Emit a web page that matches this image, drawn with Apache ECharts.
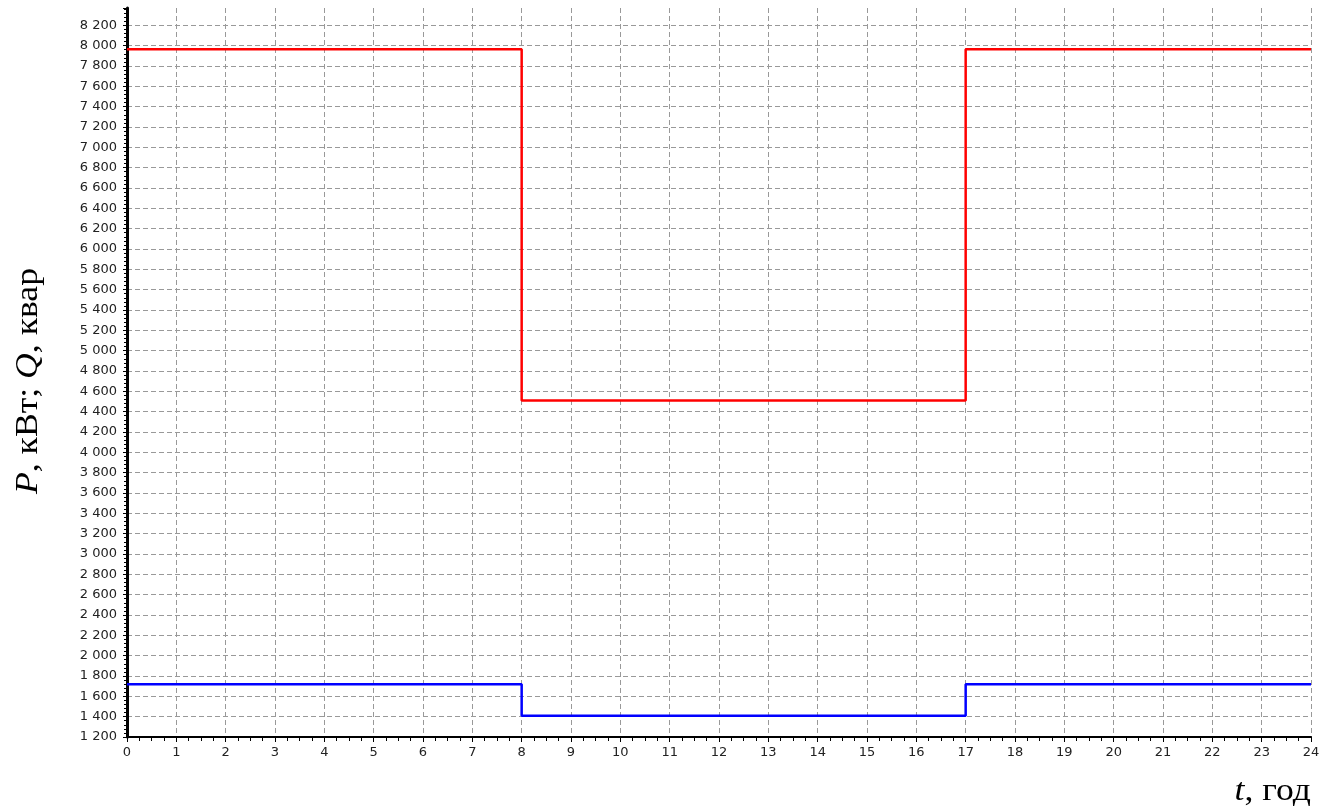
<!DOCTYPE html>
<html>
<head>
<meta charset="utf-8">
<script src="https://cdn.jsdelivr.net/npm/echarts@6/dist/echarts.min.js"></script>
<style>
  html, body { margin: 0; padding: 0; background: #fff; }
  #chart { width: 1333px; height: 809px; }
</style>
</head>
<body>
<div id="chart"></div>
<script>
// Hours where the load level changes (step boundaries)
const hours = [0, 8, 17, 24];
// Active power P, kW, held from each hour until the next one
const activePower = [7965, 4510, 7965, 7965];
// Reactive power Q, kvar
const reactivePower = [1718, 1410, 1718, 1718];

const yMin = 1200;
const yMax = 8370;
const yStep = 200;

const pairs = (xs, ys) => xs.map((x, i) => [x, ys[i]]);

// One colour per split line; the last (at the axis top) stays invisible
const gridTickCount = Math.floor((yMax - yMin) / yStep) + 2;
const splitColors = Array.from({ length: gridTickCount }, (_, i) =>
  i === gridTickCount - 1 ? 'rgba(0,0,0,0)' : '#999');

const labelFont = { fontFamily: 'DejaVu Sans', fontSize: 13, color: '#222' };
const fmtThousands = v => String(v).replace(/\B(?=(\d{3})+(?!\d))/g, ' ');

// Serif axis captions, italic symbols
const titleRich = {
  i: { fontFamily: 'Liberation Serif', fontStyle: 'italic', fontWeight: 'normal', fontSize: 31, fill: '#000' },
  r: { fontFamily: 'Liberation Serif', fontWeight: 'normal', fontSize: 31, fill: '#000' }
};

const chart = echarts.init(document.getElementById('chart'));
chart.setOption({
  animation: false,
  backgroundColor: '#fff',
  grid: { left: 127, right: 22, top: 8, bottom: 72 },
  xAxis: {
    type: 'value',
    min: 0, max: 24, interval: 1,
    axisLine: { show: true, onZero: false, lineStyle: { color: '#000', width: 2 } },
    axisTick: { show: true, length: 5, lineStyle: { color: '#000' } },
    minorTick: { show: true, splitNumber: 4, length: 4, lineStyle: { color: '#000' } },
    axisLabel: Object.assign({ margin: 9 }, labelFont),
    splitLine: { show: true, lineStyle: { color: '#999', type: [5, 3], width: 1 } }
  },
  yAxis: {
    type: 'value',
    min: yMin, max: yMax, interval: yStep,
    offset: 2,
    axisLine: { show: true, lineStyle: { color: '#000', width: 3 } },
    axisTick: { show: true, length: 4, lineStyle: { color: '#000' } },
    minorTick: { show: true, splitNumber: 5, length: 3, lineStyle: { color: '#000' } },
    axisLabel: Object.assign({
      margin: 8,
      showMaxLabel: false,
      formatter: v => (v % yStep === 0 ? fmtThousands(v) : '')
    }, labelFont),
    splitLine: { show: true, lineStyle: { color: splitColors, type: [5, 3], width: 1 } }
  },
  graphic: [
    {
      type: 'text',
      x: 1311, y: 792,
      scaleX: 1.15,
      style: {
        text: '{i|t}{r|, год}',
        rich: titleRich,
        align: 'right',
        verticalAlign: 'middle'
      }
    },
    {
      type: 'text',
      x: 29, y: 381,
      rotation: Math.PI / 2,
      scaleX: 1.15,
      style: {
        text: '{i|P}{r|, кВт; }{i|Q}{r|, квар}',
        rich: titleRich,
        align: 'center',
        verticalAlign: 'middle'
      }
    }
  ],
  series: [
    {
      name: 'P',
      type: 'line',
      step: 'end',
      symbol: 'none',
      data: pairs(hours, activePower),
      lineStyle: { color: '#ff0000', width: 2.5 },
      z: 5
    },
    {
      name: 'Q',
      type: 'line',
      step: 'end',
      symbol: 'none',
      data: pairs(hours, reactivePower),
      lineStyle: { color: '#0000ff', width: 2.5 },
      z: 5
    }
  ]
});
</script>
</body>
</html>
